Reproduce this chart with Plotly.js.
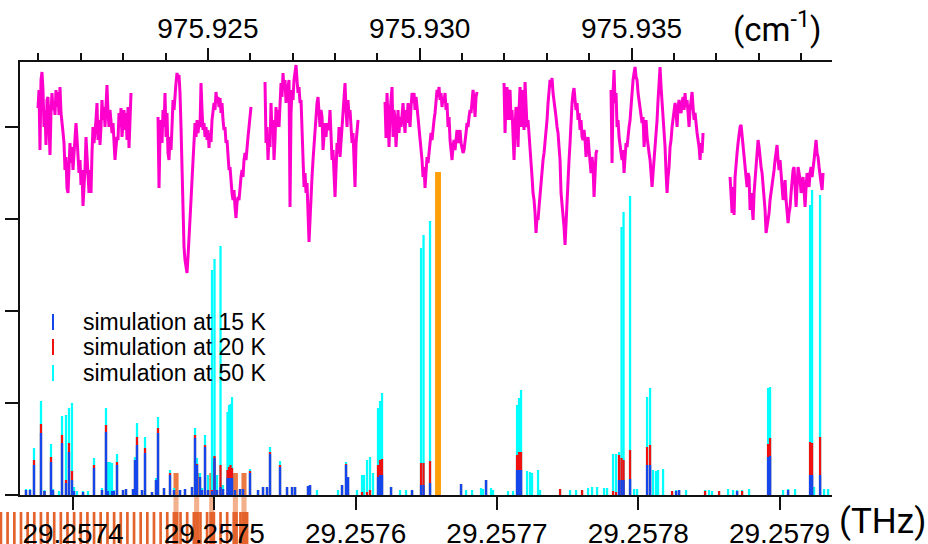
<!DOCTYPE html>
<html><head><meta charset="utf-8">
<script src="https://cdn.plot.ly/plotly-3.0.1.min.js"></script>
<style>html,body{margin:0;padding:0;background:#fff}#chart{width:928px;height:544px}</style>
</head><body><div id="chart"></div>
<script>
// ---------- data ----------
const F0_THZ = 29.2574;               // offsets below are MHz above this frequency
const C_THZ_PER_CM = 0.0299792458;    // 1 cm^-1 = 0.0299792458 THz
const X_RANGE_MHZ = [-37.5, 537.1];

const seriesNames = ['simulation at 15 K', 'simulation at 20 K', 'simulation at 50 K'];
const topAxisLabel = '(cm<sup>-1</sup>)';
const bottomAxisLabel = '(THz)';

// measured spectrum (magenta), recorded in 7 scan windows, uniformly sampled in each
const specSegStartMHz = [-24.77, 60.16, 135.88, 220.81, 305.02, 380.75, 464.97];
const specSegEndMHz   = [41.05, 125.97, 201.70, 285.91, 370.84, 445.86, 530.78];
const specSeg1 = [38.7,40.5,34.5,41.5,42.3,40.5,36.8,38.5,35.0,39.5, 39.8,37.2,34.0,38.2,40.2,38.5,39.2,38.0,40.5,38.8,
  40.3,38.0,40.8,38.2,36.8,36.3,35.2,32.5,33.8,30.7, 30.2,32.5,35.2,33.2,34.8,32.5,34.2,35.5,37.2,35.7,
  33.5,32.2,33.5,31.0,32.5,28.9,30.8,32.5,35.8,33.5, 31.8,30.2,32.5,30.2,34.2,36.8,35.2,36.2,37.5,39.2,
  35.5,37.5,35.0,36.8,39.5,37.5,38.8,36.8,39.2,41.0, 38.2,36.8,38.5,37.5,36.2,37.2,35.5,33.5,34.8,35.8,
  35.5,38.2,36.8,38.7,35.8,37.7,38.5,36.5,38.2,35.5, 38.8,34.7,38.2,40.2];
const specSeg2 = [37.8,30.7,35.8,37.5,35.2,38.5,36.8,40.2,35.8,38.2, 34.2,33.5,35.8,34.5,36.8,39.5,38.5,40.5,41.2,42.2,
  41.8,42.0,40.2,36.8,31.8,27.5,24.8,23.5,22.8,22.2, 23.8,26.2,26.8,29.5,31.5,33.5,36.2,37.2,35.8,37.5,
  36.2,37.2,36.8,41.2,38.5,36.5,37.2,35.8,36.8,35.5, 36.5,34.7,36.2,35.3,37.5,38.2,39.2,38.5,40.3,39.2,
  39.8,38.8,39.7,38.2,39.2,37.5,36.5,36.8,35.2,35.5, 33.5,32.5,32.8,30.8,30.2,29.5,30.5,28.8,27.7,29.2,
  29.8,29.5,31.2,31.8,32.5,31.8,33.5,34.2,33.5,35.2, 35.8,36.8,38.2,38.8];
const specSeg3 = [41.3,35.2,36.8,33.5,35.8,34.8,39.2,36.2,37.5,33.5, 35.5,38.8,36.8,38.5,36.8,39.5,41.2,39.8,42.2,40.5,
  41.5,39.2,40.5,40.8,41.5,28.8,38.2,40.5,39.5,41.5, 42.2,43.0,41.5,40.2,40.8,39.2,39.5,36.8,33.5,30.8,
  32.2,30.2,31.2,28.5,25.3,27.5,30.2,31.8,33.5,35.2, 36.8,37.8,39.2,39.8,38.2,36.8,38.5,37.8,34.5,36.2,
  37.2,35.8,37.2,36.5,36.8,38.5,36.2,33.5,34.5,32.5, 29.8,32.5,35.2,34.2,36.8,33.8,35.2,36.8,38.2,39.8,
  41.2,38.5,36.8,39.5,37.8,38.5,36.2,35.2,36.2,33.5, 30.8,35.2,36.8,37.5];
const specSeg4 = [39.3,35.7,40.2,36.8,34.8,38.2,39.5,40.8,35.8,38.5, 37.5,34.8,36.8,38.5,36.2,37.8,36.8,38.5,39.2,37.5,
  36.2,38.5,37.2,39.2,38.2,36.8,38.8,40.2,39.2,40.2, 38.5,39.8,38.8,37.8,36.8,35.8,34.5,33.5,31.8,32.8,
  30.7,32.5,33.8,33.2,34.5,35.2,36.2,35.5,36.8,37.5, 38.2,39.5,40.5,39.8,40.8,39.5,40.2,38.8,39.8,39.2,
  40.2,38.5,39.2,36.8,37.8,35.5,34.2,33.5,34.8,35.5, 34.5,35.8,36.5,35.2,35.8,36.5,35.2,34.5,34.2,34.5,
  35.8,36.2,37.2,36.8,37.8,38.5,38.2,39.2,40.5,39.5, 37.8,39.8,40.3];
const specSeg5 = [41.2,36.2,39.5,40.8,37.5,40.2,40.5,37.5,38.5,34.8, 33.5,36.8,38.8,37.8,34.8,38.5,40.8,36.8,40.5,38.2,
  36.5,41.3,38.5,36.8,37.5,36.2,35.2,33.5,31.8,30.2, 29.5,28.2,26.2,27.8,27.5,28.8,30.2,30.8,32.5,33.5,
  34.2,35.2,36.2,37.5,39.2,40.5,41.5,40.8,41.7,40.2, 39.5,38.5,37.8,36.8,36.2,34.8,33.5,30.2,29.2,27.5,
  26.8,25.0,27.5,29.5,31.8,33.5,35.2,37.5,39.2,40.2, 40.7,39.5,38.5,39.2,37.5,38.2,36.5,37.5,35.8,35.5,
  36.5,35.5,33.8,35.2,35.8,34.5,33.5,32.2,33.8,32.8, 29.8,32.2,34.2,34.5];
const specSeg6 = [40.5,33.2,40.2,42.5,39.2,40.2,36.8,37.5,35.8,35.2, 34.2,33.5,34.5,32.2,33.5,35.2,34.8,36.2,36.8,37.5,
  39.2,40.5,41.5,42.2,42.8,41.8,41.5,40.2,39.5,38.8, 38.2,37.2,37.8,34.8,36.2,37.5,35.8,35.2,34.2,33.5,
  32.2,30.8,32.2,33.5,34.2,36.2,37.5,39.5,41.5,42.8, 40.8,39.5,37.8,36.2,34.8,32.2,30.2,31.8,32.8,34.8,
  35.5,36.8,37.5,38.5,39.2,38.2,36.8,38.8,39.5,38.5, 38.2,39.2,39.8,38.5,40.2,38.8,39.5,38.2,36.8,38.5,
  39.8,40.3,38.8,37.5,38.2,36.8,36.2,35.5,34.8,33.5, 35.2,34.2,36.2];
const specSeg7 = [31.8,30.2,28.2,30.8,28.0,31.8,33.5,34.2,35.2,36.2, 36.8,37.0,35.8,34.8,33.8,32.8,31.8,30.8,32.2,31.8,
  28.5,30.2,29.2,27.5,30.2,31.8,33.5,34.2,35.5,34.8, 33.5,32.8,32.2,31.2,30.2,28.5,26.2,26.8,27.5,28.2,
  29.5,30.2,30.8,31.8,32.5,33.5,34.2,35.0,33.5,32.5, 33.5,32.2,30.8,29.5,30.2,31.5,29.5,27.8,27.2,28.2,
  28.8,30.2,31.8,32.5,32.8,30.2,28.8,30.8,32.8,32.2, 31.5,30.2,31.2,31.8,30.5,28.8,30.8,32.2,31.5,30.8,
  32.2,32.8,31.8,32.5,33.5,34.5,35.5,34.2,33.8,32.8, 32.2,31.2,30.5,32.2];

// simulated line positions (MHz offset) and intensities at 50 K, 20 K, 15 K
const stickMHz = [
  -33.26,-30.43,-27.60,-22.65,-20.17,-15.57,-14.15,-9.91,-7.78,-4.95,
  -2.83,-0.71,0.71,2.83,7.08,10.62,14.86,20.52,23.35,24.77,
  26.19,27.60,29.02,31.14,35.39,37.51,42.46,43.88,45.29,48.83,
  50.96,55.91,58.74,60.16,64.40,68.65,71.48,75.72,79.26,84.22,
  86.34,87.76,89.88,91.29,93.42,95.54,98.37,100.14,101.91,104.39,
  106.16,109.34,110.40,111.46,112.53,114.65,118.19,120.31,125.26,130.93,
  134.46,137.30,139.42,146.50,151.45,154.99,157.11,166.31,167.73,172.68,
  187.54,190.37,193.20,194.62,200.99,204.53,205.94,208.07,210.19,212.31,
  215.85,217.27,218.68,225.05,231.42,235.67,239.91,246.28,248.05,252.65,
  274.59,278.13,282.38,288.75,290.16,292.28,295.82,297.24,307.85,311.39,
  314.22,315.64,317.05,321.30,323.42,324.84,329.09,330.50,344.66,351.73,
  355.98,360.22,364.47,367.30,370.84,375.79,377.92,382.16,384.29,386.41,
  388.18,389.59,394.19,397.03,399.15,406.23,408.35,410.47,412.59,414.01,
  417.55,423.92,426.75,428.87,433.83,447.27,450.10,452.23,457.18,463.55,
  467.09,469.92,473.46,478.41,491.86,493.27,502.47,506.01,510.97,521.58,
  523.00,524.41,528.66,531.49,534.32];
const sim50K = [
  0.6,0.6,4.7,9.4,0.5,5.1,0.6,0.4,7.9,8.0,
  8.7,9.2,0.8,0.4,0.4,0.4,3.7,0.7,8.7,3.3,
  3.3,3.2,0.5,4.1,0.5,0.6,0.6,3.8,7.2,0.5,
  5.8,0.3,1.7,7.8,0.7,2.5,0.7,0.5,0.6,0.8,
  6.7,3.7,2.2,0.7,6.0,2.0,22.5,23.6,2.0,24.9,
  1.0,8.3,9.0,9.1,9.8,0.5,0.6,0.6,2.6,0.5,
  0.8,0.8,4.8,3.4,0.8,0.8,0.8,0.9,1.0,0.5,
  0.5,1.0,3.3,1.8,0.5,2.0,2.0,3.5,3.8,2.2,
  8.7,9.4,10.2,0.8,0.5,0.5,0.5,24.7,26.0,27.4,
  1.1,0.5,0.5,0.7,0.6,1.5,0.7,0.5,0.4,0.4,
  9.0,9.7,10.5,2.4,2.3,2.2,2.5,0.5,0.6,0.5,
  0.5,0.5,0.7,0.8,0.8,0.7,0.7,4.1,4.1,4.3,
  26.8,28.3,29.9,0.6,0.6,9.8,10.7,2.5,2.4,2.5,
  2.6,0.4,0.5,0.5,0.5,0.5,0.5,0.4,0.4,0.6,
  0.5,0.5,0.5,0.6,10.7,10.8,0.5,0.6,0.6,29.0,
  30.5,0.8,30.0,0.6,0.6];
const sim20K = [
  0.5,0.5,3.5,7.1,0.4,3.8,0.5,0,6.0,1.5,
  5.2,2.4,0.4,0,0.3,0,3.0,0.5,7.0,0,
  0,0,0,3.3,0.5,0.6,0.6,3.5,5.8,0.5,
  4.7,0.3,1.5,6.7,0.7,2.2,0.5,0.5,0.6,0.8,
  6.0,3.1,1.8,0.5,5.0,0.5,0.5,3.9,0.5,3.0,
  0.6,2.5,2.8,3.0,2.7,0.5,0.6,0.6,2.4,0.5,
  0.8,0.8,4.3,3.0,0.8,0.8,0.8,0.9,1.0,0,
  0,1.0,3.1,1.8,0,0.3,0,0.3,0.5,0,
  3.0,3.5,3.6,0.8,0,0,0.5,3.2,3.2,3.4,
  1.1,0,0,0,0,1.5,0,0,0,0,
  4.0,4.3,4.3,0,0,0,0,0,0.6,0,
  0,0.5,0,0,0,0,0,0.4,0.3,4.0,
  3.7,3.5,4.5,0,0,4.8,5.0,0,0,0,
  0,0.4,0.4,0.5,0,0.4,0,0,0.4,0,
  0,0.4,0.4,0,5.1,5.7,0,0.5,0,5.3,
  5.2,0,5.8,0,0];
const sim15K = [
  0.5,0.5,3.0,6.2,0.4,3.3,0.5,0,5.2,1.2,
  4.3,1.5,0.4,0,0.3,0,2.7,0.5,6.3,0.4,
  0,0.4,0.4,3.0,0.5,0.6,0.6,3.5,5.0,0.5,
  4.2,0.3,1.5,6.2,0.7,2.0,0.5,0.5,0.6,0.8,
  5.7,3.0,1.8,0.5,4.8,0.5,0.4,3.7,0.5,0.8,
  0.6,1.7,1.7,1.7,1.7,0.5,0.6,0.6,2.2,0.5,
  0.8,0.8,4.1,2.8,0.8,0.8,0.8,0.9,1.0,0,
  0,1.0,3.0,1.8,0,0,0,0,0,0,
  1.8,2.0,2.0,0.8,0,0,0.5,1.0,1.0,1.2,
  1.1,0,0,0,0,1.5,0,0,0,0,
  2.5,2.5,2.5,0,0,0,0,0,0,0,
  0,0,0,0,0,0,0,0,0,1.5,
  1.5,1.5,1.6,0,0,3.0,3.0,0,0,0,
  0,0,0.4,0.5,0,0,0,0,0,0,
  0,0.4,0,0,3.8,3.9,0,0.5,0,2.0,
  2.0,0,2.0,0,0];

// single laser line (orange)
const laserMHz = [258.31];
const laserLevel = [32.3];

// frequency comb teeth shown at the lower left
const combMHz = [-51.0,-46.3,-41.5,-36.8,-32.1,-27.4,-22.7,-18.0,-13.3,-8.6,-3.9,0.8,5.5,10.2,14.9,19.6,24.4,29.1,
  33.8,38.5,43.2,47.9,52.6,57.3,62.0,66.7,71.4,76.1,80.8,85.5,90.2,94.9,99.7,104.4,109.1,113.8,118.5,123.2];
const combTallMHz = [72.9, 87.5, 98.2, 114.9, 121.0];

// ---------- geometry (figure pixels) ----------
const W = 928, H = 544;
const PLOT = {l: 20, t: 62, w: 812, h: 433};
const Y_RANGE = [0, 43.3];

// ---------- build ----------
const toTHz = m => F0_THZ + m * 1e-6;
const specSegs = [specSeg1, specSeg2, specSeg3, specSeg4, specSeg5, specSeg6, specSeg7];
const specX = [], specY = [];
specSegs.forEach((seg, k) => {
  const a = specSegStartMHz[k], b = specSegEndMHz[k], n = seg.length;
  seg.forEach((v, i) => { specX.push(toTHz(a + (b - a) * i / (n - 1))); specY.push(v); });
  specX.push(null); specY.push(null);
});

// full-figure axis pair for the comb (same scale as the main axes, extended to the figure edges)
const mhzPerPx = (X_RANGE_MHZ[1] - X_RANGE_MHZ[0]) / PLOT.w;
const unitPerPx = (Y_RANGE[1] - Y_RANGE[0]) / PLOT.h;
const fullXRangeMHz = [X_RANGE_MHZ[0] - PLOT.l * mhzPerPx, X_RANGE_MHZ[1] + (W - PLOT.l - PLOT.w) * mhzPerPx];
const fullYRange = [Y_RANGE[0] - (H - PLOT.t - PLOT.h) * unitPerPx, Y_RANGE[1] + PLOT.t * unitPerPx];

const STICK_W = 1.6e-6, COMB_W = 1.9e-6, COMB_TALL_W = 3.6e-6;
const COMB_BASE = -6, COMB_LOW_TOP = -1.7, COMB_FADE_TOP = -0.2, COMB_TALL_TOP = 2.2;
const colors = {c15: '#1446eb', c20: '#f01010', c50: '#00ffff', spec: '#ff00cc', laser: '#ff9f0a',
                comb: '#e4622b', combTop: '#ea7944', combFade: '#f3b08c', axis: '#111'};

const combBar = (pos, top0, top1, w, col) => ({
  type: 'bar', x: pos.map(toTHz), y: pos.map(() => top1 - top0), base: top0, width: w,
  marker: {color: col, line: {width: 0}}, hoverinfo: 'skip', showlegend: false, xaxis: 'x', yaxis: 'y'
});
const stickBar = (vals, col, name) => ({
  type: 'bar', name: name, x: stickMHz.map(toTHz), y: vals, width: STICK_W,
  marker: {color: col, line: {width: 0}}, showlegend: false, xaxis: 'x2', yaxis: 'y2'
});

const data = [
  combBar(combMHz, COMB_BASE, COMB_LOW_TOP, COMB_W, colors.comb),
  combBar(combTallMHz, COMB_BASE, COMB_LOW_TOP, COMB_TALL_W, colors.comb),
  combBar(combTallMHz, COMB_LOW_TOP, COMB_FADE_TOP, COMB_TALL_W, colors.combFade),
  combBar(combTallMHz, COMB_FADE_TOP, COMB_TALL_TOP, COMB_TALL_W, colors.combTop),
  stickBar(sim50K, colors.c50, seriesNames[2]),
  stickBar(sim20K, colors.c20, seriesNames[1]),
  stickBar(sim15K, colors.c15, seriesNames[0]),
  {type: 'bar', x: laserMHz.map(toTHz), y: laserLevel, width: 4.2e-6, xaxis: 'x2', yaxis: 'y2',
   marker: {color: colors.laser, line: {width: 0}}, showlegend: false},
  {type: 'scatter', mode: 'lines', x: specX, y: specY, connectgaps: false, xaxis: 'x2', yaxis: 'y2',
   line: {color: colors.spec, width: 3}, showlegend: false},
  {type: 'scatter', mode: 'markers', x: [null], y: [null], xaxis: 'x3', yaxis: 'y2', showlegend: false, hoverinfo: 'skip'}
];

const xr = X_RANGE_MHZ.map(toTHz);
const axCommon = {ticks: 'outside', tickwidth: 2, tickcolor: colors.axis, showline: true, linewidth: 2,
                  linecolor: colors.axis, showgrid: false, zeroline: false};
const dom = {
  x: [PLOT.l / W, (PLOT.l + PLOT.w) / W],
  y: [(H - PLOT.t - PLOT.h) / H, (H - PLOT.t) / H]
};

// legend drawn as text + short vertical strokes
const legendCols = [colors.c15, colors.c20, colors.c50];
const legendRowsPx = [322, 347, 373];
const px2x = p => p / W;
const py2y = p => 1 - p / H;

const annotations = [
  {xref: 'paper', yref: 'paper', x: px2x(731), y: py2y(27), xanchor: 'left', yanchor: 'middle', showarrow: false,
   text: topAxisLabel, font: {family: 'Roboto, sans-serif', size: 33, color: '#000'}},
  {xref: 'paper', yref: 'paper', x: px2x(837), y: py2y(521), xanchor: 'left', yanchor: 'middle', showarrow: false,
   text: bottomAxisLabel, font: {family: 'Roboto, sans-serif', size: 35, color: '#000'}}
];
const shapes = [];
seriesNames.forEach((nm, i) => {
  annotations.push({xref: 'paper', yref: 'paper', x: px2x(81), y: py2y(legendRowsPx[i]), xanchor: 'left',
    yanchor: 'middle', showarrow: false, text: nm,
    font: {family: 'Liberation Sans, Arial, sans-serif', size: 23, color: '#000'}});
  shapes.push({type: 'line', xref: 'paper', yref: 'paper', x0: px2x(53), x1: px2x(53),
    y0: py2y(legendRowsPx[i] + 8), y1: py2y(legendRowsPx[i] - 8), line: {color: legendCols[i], width: 2}});
});

const layout = {
  width: W, height: H,
  margin: {l: 0, r: 0, t: 0, b: 0, pad: 0},
  paper_bgcolor: '#fff', plot_bgcolor: 'rgba(0,0,0,0)',
  showlegend: false, barmode: 'overlay',
  font: {family: 'Liberation Sans, Arial, sans-serif', color: '#000'},
  xaxis: {domain: [0, 1], range: fullXRangeMHz.map(toTHz), visible: false, anchor: 'y', fixedrange: true},
  yaxis: {domain: [0, 1], range: fullYRange, visible: false, anchor: 'x', fixedrange: true},
  xaxis2: Object.assign({}, axCommon, {domain: dom.x, anchor: 'y2', range: xr, tick0: F0_THZ, dtick: 0.0001,
    tickformat: '.4f', ticklen: 13, tickfont: {size: 28, color: '#000'}, ticklabelstandoff: -1}),
  xaxis3: Object.assign({}, axCommon, {overlaying: 'x2', side: 'top', anchor: 'y2',
    range: xr.map(f => f / C_THZ_PER_CM), tick0: 975.925, dtick: 0.005, tickformat: '.3f', ticklen: 12,
    minor: {ticks: 'outside', dtick: 0.001, ticklen: 7, tickwidth: 2, tickcolor: colors.axis},
    tickfont: {size: 28, color: '#000'}, ticklabelstandoff: -1}),
  yaxis2: Object.assign({}, axCommon, {domain: dom.y, anchor: 'x2', range: Y_RANGE, tick0: 0, dtick: 9.2,
    ticklen: 13, showticklabels: false}),
  annotations: annotations, shapes: shapes
};

Plotly.newPlot('chart', data, layout, {staticPlot: true, displayModeBar: false});
</script>
</body></html>
